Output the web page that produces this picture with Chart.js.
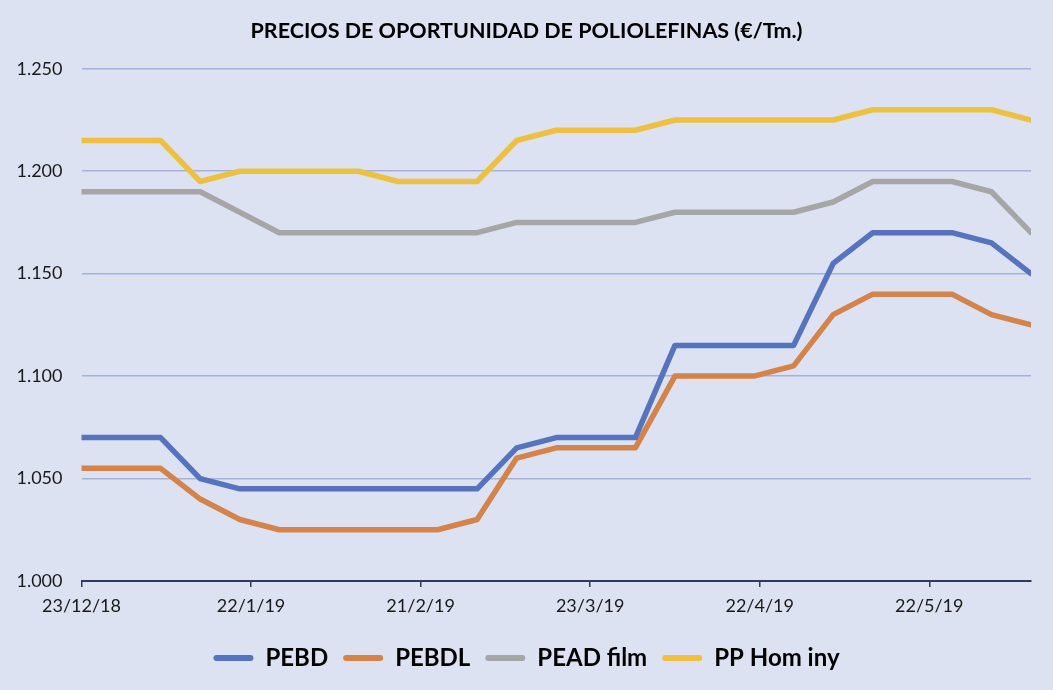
<!DOCTYPE html>
<html>
<head>
<meta charset="utf-8">
<script src="https://cdn.jsdelivr.net/npm/chart.js@4.4.1/dist/chart.umd.min.js"></script>
<style>
  html, body { margin: 0; padding: 0; background: #DDE2F2; }
  #wrap { width: 1053px; height: 690px; position: relative; }
</style>
</head>
<body>
<div id="wrap"><canvas id="c"></canvas></div>
<script>
// ---- Data ----
const titleText = 'PRECIOS DE OPORTUNIDAD DE POLIOLEFINAS (€/Tm.)';
const dates = ['23/12/18','30/12/18','6/1/19','13/1/19','20/1/19','27/1/19','3/2/19','10/2/19','17/2/19','24/2/19','3/3/19','10/3/19','17/3/19','24/3/19','31/3/19','7/4/19','14/4/19','21/4/19','28/4/19','5/5/19','12/5/19','19/5/19','26/5/19','2/6/19','9/6/19'];
const seriesNames = ['PEBD', 'PEBDL', 'PEAD film', 'PP Hom iny'];
const pebd  = [1070,1070,1070,1050,1045,1045,1045,1045,1045,1045,1045,1065,1070,1070,1070,1115,1115,1115,1115,1155,1170,1170,1170,1165,1150];
const pebdl = [1055,1055,1055,1040,1030,1025,1025,1025,1025,1025,1030,1060,1065,1065,1065,1100,1100,1100,1105,1130,1140,1140,1140,1130,1125];
const pead  = [1190,1190,1190,1190,1180,1170,1170,1170,1170,1170,1170,1175,1175,1175,1175,1180,1180,1180,1180,1185,1195,1195,1195,1190,1170];
const pp    = [1215,1215,1215,1195,1200,1200,1200,1200,1195,1195,1195,1215,1220,1220,1220,1225,1225,1225,1225,1225,1230,1230,1230,1230,1225];
const xTickLabels = ['23/12/18','22/1/19','21/2/19','23/3/19','22/4/19','22/5/19'];
const yTicks = [1000,1050,1100,1150,1200,1250];

// ---- Helpers ----
function dayOf(s) {
  const p = s.split('/').map(Number);
  return (Date.UTC(2000 + p[2], p[1] - 1, p[0]) - Date.UTC(2018, 11, 23)) / 86400000;
}
function fmtThousands(v) {
  const k = Math.floor(v / 1000), r = Math.round(v % 1000);
  return k + '.' + String(r).padStart(3, '0');
}
const xDays = dates.map(dayOf);
const xTickDays = xTickLabels.map(dayOf);
const tickLabelMap = {};
xTickDays.forEach((d, i) => { tickLabelMap[d] = xTickLabels[i]; });

const colors = ['#5673BE', '#D4834A', '#A6A6A6', '#EDC042'];
const values = [pebd, pebdl, pead, pp];
const FONT = 'Lato, "Open Sans", "DejaVu Sans", sans-serif';

const datasets = seriesNames.map((name, i) => ({
  label: name,
  data: values[i].map((v, j) => ({ x: xDays[j], y: v })),
  borderColor: colors[i],
  backgroundColor: colors[i],
  borderWidth: 5.5,
  borderCapStyle: 'round',
  borderJoinStyle: 'round',
  pointRadius: 0,
  pointHoverRadius: 0,
  tension: 0,
  fill: false
}));

new Chart(document.getElementById('c'), {
  type: 'line',
  data: { datasets: datasets },
  options: {
    responsive: true,
    maintainAspectRatio: false,
    animation: false,
    layout: { padding: { left: 0, right: 0, top: 0, bottom: 10 } },
    plugins: {
      tooltip: { enabled: false },
      title: {
        display: true,
        text: titleText,
        color: '#000000',
        font: { family: FONT, size: 21.5, weight: 'bold' },
        padding: { top: 18, bottom: 25 }
      },
      legend: {
        position: 'bottom',
        labels: {
          color: '#000000',
          font: { family: FONT, size: 24, weight: 'bold' },
          boxWidth: 40,
          boxHeight: 6,
          padding: 15,
          useBorderRadius: true,
          borderRadius: 3,
          generateLabels: function (chart) {
            return chart.data.datasets.map((ds, i) => ({
              text: ds.label,
              fillStyle: ds.borderColor,
              strokeStyle: ds.borderColor,
              lineWidth: 0,
              hidden: false,
              datasetIndex: i,
              fontColor: '#000000',
              borderRadius: 3
            }));
          }
        }
      }
    },
    scales: {
      x: {
        type: 'linear',
        min: xDays[0],
        max: xDays[xDays.length - 1],
        afterBuildTicks: function (scale) {
          scale.ticks = xTickDays.map(v => ({ value: v }));
        },
        afterFit: function (scale) { scale.height = 50; },
        ticks: {
          color: '#1A1A1A',
          font: { family: FONT, size: 18 },
          padding: 8,
          maxRotation: 0,
          autoSkip: false,
          callback: function (v) { return tickLabelMap[v] !== undefined ? tickLabelMap[v] : ''; }
        },
        grid: {
          drawOnChartArea: false,
          drawTicks: true,
          tickLength: 6,
          color: '#2F3A5E',
          lineWidth: 1.5
        },
        border: { display: true, color: '#2F3A5E', width: 2 }
      },
      y: {
        min: 1000,
        max: 1250,
        afterBuildTicks: function (scale) {
          scale.ticks = yTicks.map(v => ({ value: v }));
        },
        afterFit: function (scale) { scale.width = 81.5; },
        ticks: {
          color: '#1A1A1A',
          font: { family: FONT, size: 18 },
          padding: 19,
          callback: function (v) { return fmtThousands(v); }
        },
        grid: {
          color: '#A3B1DF',
          lineWidth: 1.5,
          drawTicks: false
        },
        border: { display: false }
      },
      yRight: {
        position: 'right',
        display: true,
        min: 1000,
        max: 1250,
        afterFit: function (scale) { scale.width = 22; },
        ticks: { display: false },
        grid: { display: false, drawOnChartArea: false },
        border: { display: false }
      }
    }
  }
});
</script>
</body>
</html>
